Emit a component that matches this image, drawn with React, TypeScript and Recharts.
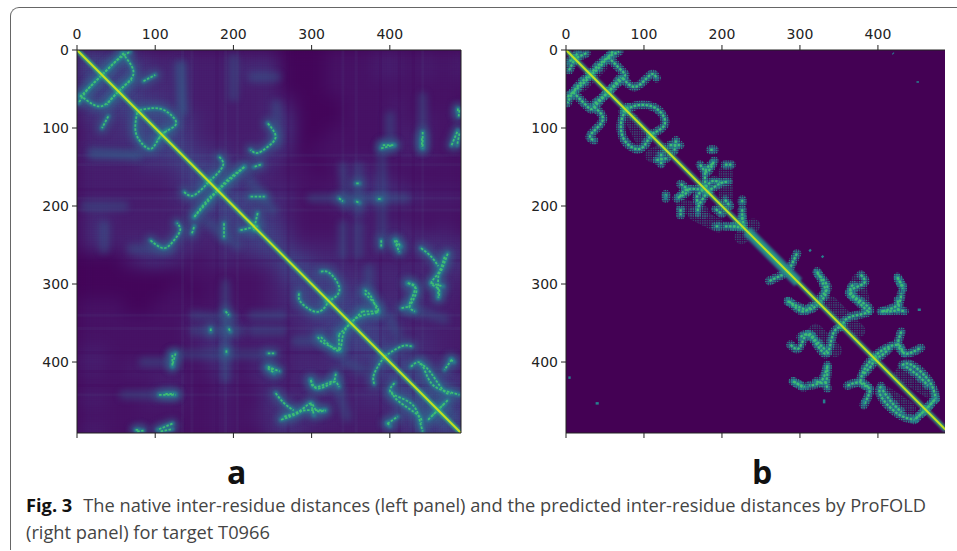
import { ComposedChart, XAxis, YAxis, Line, Scatter, CartesianGrid, ReferenceLine, ReferenceArea } from "recharts";

type Pt = [number, number];

const tickValues = [0, 100, 200, 300, 400];
const residueCount = 491;
const cellStep = 20;

// background level per 20-residue cell, upper triangle only (the map is symmetric)
const nativeHaze = [
  "6554323222222000111221212",
  "655433222344000111221212",
  "65333222222000111111111",
  "6543222223200011121111",
  "665322223400011121212",
  "65322223400111122211",
  "6433234301111122211",
  "654333110122111111",
  "65432211123321111",
  "6543311224443222",
  "644211122111111",
  "65311122232121",
  "6422222333433",
  "653322222344",
  "65433333233",
  "6544233232",
  "655433322",
  "65432222",
  "6533322",
  "653322",
  "65443",
  "6554",
  "655",
  "65",
  "6",
];
const hazeColors = ["#43055a", "#461265", "#461e6e", "#452a76", "#43357d", "#403f83", "#3d4a87"];

// thin rows and columns of the native map that stand out from their neighbours
const lightStripes = [135, 147, 190, 205, 340, 357, 442];
const darkStripes = [179, 270, 388, 412, 430];

const diagonal: Pt[] = [
  [0, 0],
  [491, 491],
];

const nativeStrands: Pt[][] = [
  [[60, 4], [47, 17], [32, 32], [15, 49], [2, 68]],
  [[58, 4], [70, 21], [70, 36], [53, 53], [38, 70]],
  [[85, 40], [100, 32]],
  [[80, 77], [105, 75], [122, 85], [126, 96], [113, 105], [103, 115]],
  [[244, 94], [254, 111], [244, 124], [231, 132], [222, 128]],
  [[235, 147], [226, 150]],
  [[214, 150], [197, 165], [180, 180], [167, 192], [150, 214]],
  [[182, 137], [187, 147], [178, 160], [165, 172]],
  [[222, 188], [240, 188]],
  [[231, 209], [226, 231]],
  [[389, 126], [404, 122]],
  [[441, 113], [441, 124]],
  [[489, 77], [488, 85]],
  [[489, 107], [486, 122]],
  [[335, 190], [340, 194]],
  [[357, 171], [361, 171]],
  [[357, 194], [361, 196]],
  [[385, 191], [389, 191]],
  [[389, 244], [389, 252]],
  [[406, 244], [412, 259]],
  [[440, 254], [453, 265], [462, 277]],
  [[474, 261], [466, 282], [462, 291], [462, 316]],
  [[453, 299], [468, 303]],
  [[423, 299], [434, 308], [425, 329]],
  [[312, 284], [323, 286], [335, 303], [331, 316], [318, 323]],
  [[368, 312], [376, 320], [385, 335], [366, 340], [350, 350], [335, 365]],
  [[308, 368], [316, 376], [337, 385]],
  [[335, 365], [335, 384]],
  [[393, 393], [415, 380], [428, 380]],
  [[427, 406], [440, 402], [453, 427], [474, 438], [489, 442]],
  [[474, 449], [461, 462], [453, 470]],
  [[479, 397], [470, 410]],
  [[438, 402], [451, 412], [468, 436], [478, 440]],
  [[442, 105], [442, 126]],
  [[479, 122], [487, 103]],
  [[391, 122], [406, 122]],
  [[408, 248], [412, 252]],
  [[487, 75], [487, 79]],
  [[299, 423], [303, 432], [316, 429], [329, 425], [335, 432]],
  [[331, 415], [329, 425]],
  [[265, 470], [286, 462], [299, 453], [306, 462], [318, 462]],
  [[478, 397], [482, 400]],
  [[408, 244], [414, 252]],
];

// faint ridges of the native map, drawn with the halo only
const nativeFaint: Pt[][] = [
  [[442, 60], [442, 126]],
  [[400, 85], [400, 125]],
  [[340, 150], [345, 200]],
  [[360, 150], [360, 210]],
  [[390, 120], [390, 240]],
  [[300, 190], [420, 190]],
  [[340, 225], [340, 262]],
  [[360, 225], [360, 262]],
  [[225, 35], [255, 35]],
  [[130, 20], [135, 75]],
  [[20, 135], [80, 135]],
  [[255, 120], [255, 70]],
  [[200, 10], [200, 60]],
  [[165, 220], [205, 250]],
  [[420, 330], [470, 345]],
  [[342, 400], [365, 410]],
  [[373, 280], [373, 310]],
  [[442, 440], [480, 470]],
];

const predictedStrands: Pt[][] = [
  [[60, 2], [39, 26], [28, 34], [12, 50], [2, 68]],
  [[54, 9], [73, 28], [73, 36], [54, 54], [35, 70]],
  [[73, 36], [90, 47], [108, 32], [116, 36]],
  [[26, 4], [3, 15]],
  [[73, 79], [91, 71], [112, 73], [125, 85], [125, 98], [108, 109]],
  [[133, 122], [146, 122]],
  [[141, 116], [139, 129]],
  [[185, 128], [190, 128]],
  [[172, 147], [181, 156], [190, 142]],
  [[204, 147], [212, 147]],
  [[181, 182], [198, 171], [208, 169]],
  [[176, 179], [168, 188], [170, 197]],
  [[146, 188], [155, 179], [176, 179]],
  [[204, 192], [210, 200]],
  [[226, 192], [226, 196]],
  [[226, 214], [228, 226]],
  [[204, 226], [219, 226]],
  [[296, 261], [288, 278]],
  [[322, 286], [335, 303], [327, 316]],
  [[284, 322], [300, 330], [312, 333], [322, 327]],
  [[378, 288], [382, 299], [365, 308], [370, 319]],
  [[363, 312], [378, 322], [389, 335], [365, 342], [355, 352]],
  [[301, 368], [312, 366], [335, 387]],
  [[425, 291], [432, 306]],
  [[425, 321], [425, 333], [404, 335]],
  [[425, 333], [434, 335]],
  [[382, 415], [393, 402], [400, 389], [425, 378], [434, 389], [455, 382]],
  [[335, 406], [327, 425], [312, 430]],
  [[292, 425], [303, 432]],
  [[361, 430], [378, 426], [389, 434]],
  [[404, 431], [404, 444], [425, 466], [447, 474]],
  [[436, 406], [451, 417], [464, 430]],
  [[472, 449], [460, 462], [447, 474]],
];

// scattered low-level pixels around the clusters of the predicted map
const predictedFuzz: Pt[][] = [
  [[205, 155], [205, 195]],
  [[165, 210], [195, 225]],
  [[340, 325], [375, 360]],
  [[320, 360], [345, 385]],
  [[410, 440], [440, 460]],
  [[430, 415], [470, 440]],
  [[20, 45], [45, 20]],
  [[85, 90], [100, 120]],
  [[225, 240], [240, 225]],
  [[128, 128], [110, 135]],
  [[375, 295], [380, 320]],
  [[150, 200], [175, 208]],
];

// blobs that sit off the main pattern in the predicted map
const predictedSpots: Pt[][] = [
  [[419, 4], [420, 5]],
  [[451, 40], [451, 42]],
  [[3, 420], [6, 420]],
  [[38, 453], [42, 453]],
  [[312, 256], [314, 258]],
  [[328, 264], [330, 266]],
  [[451, 333], [455, 333]],
  [[127, 186], [128, 192]],
  [[382, 453], [382, 448]],
  [[331, 453], [331, 448]],
];

// stretch of the predicted diagonal with a wider band
const predictedBand: Pt[] = [
  [232, 232],
  [298, 298],
];

const mirror = (strands: Pt[][]) =>
  strands.flatMap((s) => [s, s.map(([x, y]) => [y, x] as Pt)]);

const toRows = (s: Pt[]) => s.map(([x, y]) => ({ x, y }));

const hazeCells = () => {
  const cells: { x: number; y: number; v: number }[] = [];
  nativeHaze.forEach((row, i) =>
    row.split("").forEach((c, k) => {
      const j = i + k;
      cells.push({ x: j * cellStep + 10, y: i * cellStep + 10, v: Number(c) });
      if (i !== j) cells.push({ x: i * cellStep + 10, y: j * cellStep + 10, v: Number(c) });
    })
  );
  return cells;
};

const HazeCell = (p: any) => (
  <rect x={p.cx - 9} y={p.cy - 9} width={18} height={18} fill={hazeColors[p.payload.v]} />
);

const EmptyTick = () => <g />;

const axisTick = { fontSize: 14, fill: "#222", fontFamily: "DejaVu Sans" };

function Panel(props: {
  name: string;
  width: number;
  left: number;
  xMax: number;
  strands: Pt[][];
  faint: Pt[][];
  fuzz: Pt[][];
  spots: Pt[][];
  band: Pt[] | null;
  haze: boolean;
  outerW: number;
  innerW: number;
  rightSpine: boolean;
}) {
  const { name, width, left, xMax, strands, faint, fuzz, spots, band, haze, outerW, innerW, rightSpine } = props;
  return (
    <ComposedChart
      width={width + 10}
      height={460}
      margin={{ top: 49, left: left - 1, right: rightSpine ? 9 : 10, bottom: 26 }}
      style={{ position: "absolute", left: 0, top: 0 }}
    >
      <CartesianGrid horizontal={false} vertical={false} fill="#440154" />
      <XAxis
        dataKey="x"
        type="number"
        orientation="top"
        domain={[0, xMax]}
        ticks={tickValues}
        height={1}
        tick={axisTick}
        tickSize={5}
        tickMargin={6}
        stroke="#222"
        allowDataOverflow
      />
      <XAxis
        xAxisId="bottom"
        dataKey="x"
        type="number"
        orientation="bottom"
        domain={[0, xMax]}
        ticks={tickValues}
        interval={0}
        height={1}
        tick={EmptyTick}
        tickSize={5}
        stroke="#222"
        allowDataOverflow
      />
      <YAxis
        dataKey="y"
        type="number"
        reversed
        domain={[0, residueCount]}
        ticks={tickValues}
        width={1}
        tick={axisTick}
        tickSize={5}
        tickMargin={3}
        stroke="#222"
        allowDataOverflow
      />
      {rightSpine && (
        <YAxis
          yAxisId="right"
          orientation="right"
          type="number"
          domain={[0, residueCount]}
          width={1}
          tick={false}
          tickLine={false}
          stroke="#222"
        />
      )}
      {haze && (
        <Scatter
          data={hazeCells()}
          dataKey="y"
          shape={HazeCell}
          className="haze"
          zIndex={100}
          isAnimationActive={false}
        />
      )}
      {haze &&
        lightStripes.flatMap((r) => [
          <ReferenceLine key={"lx" + r} x={r} stroke="#5b8ea8" strokeOpacity={0.07} strokeWidth={3} zIndex={150} />,
          <ReferenceLine key={"ly" + r} y={r} stroke="#5b8ea8" strokeOpacity={0.07} strokeWidth={3} zIndex={150} />,
        ])}
      {haze &&
        darkStripes.flatMap((r) => [
          <ReferenceLine key={"dx" + r} x={r} stroke="#43055a" strokeOpacity={0.2} strokeWidth={3} zIndex={150} />,
          <ReferenceLine key={"dy" + r} y={r} stroke="#43055a" strokeOpacity={0.2} strokeWidth={3} zIndex={150} />,
        ])}
      {haze && (
        <ReferenceArea
          x1={0}
          x2={xMax}
          y1={0}
          y2={residueCount}
          fill="url(#gridTexture)"
          stroke="none"
          zIndex={160}
        />
      )}
      {faint.map((s, i) => (
        <Line
          key={"f" + i}
          data={toRows(s)}
          dataKey="y"
          type="linear"
          stroke="#31688e"
          strokeOpacity={0.35}
          strokeWidth={10}
          strokeLinecap="round"
          dot={false}
          className={"wide-" + name}
          isAnimationActive={false}
        />
      ))}
      {fuzz.map((s, i) => (
        <Line
          key={"z" + i}
          data={toRows(s)}
          dataKey="y"
          type="linear"
          stroke="url(#cellDots)"
          strokeOpacity={0.5}
          strokeWidth={14}
          strokeLinecap="round"
          dot={false}
          isAnimationActive={false}
        />
      ))}
      {haze &&
        strands.map((s, i) => (
          <Line
            key={"h" + i}
            data={toRows(s)}
            dataKey="y"
            type="natural"
            stroke="#31688e"
            strokeOpacity={0.5}
            strokeWidth={12}
            strokeLinecap="round"
            dot={false}
            className={"wide-" + name}
            isAnimationActive={false}
          />
        ))}
      {!haze &&
        strands.map((s, i) => (
          <Line
            key={"p" + i}
            data={toRows(s)}
            dataKey="y"
            type="natural"
            stroke="url(#cellDots)"
            strokeWidth={outerW + 4}
            strokeLinecap="round"
            dot={false}
            isAnimationActive={false}
          />
        ))}
      {strands.map((s, i) => (
        <Line
          key={"o" + i}
          data={toRows(s)}
          dataKey="y"
          type="natural"
          stroke="#27808e"
          strokeOpacity={0.85}
          strokeWidth={outerW}
          strokeLinecap="round"
          dot={false}
          className={"soft-" + name}
          isAnimationActive={false}
        />
      ))}
      {strands.map((s, i) => (
        <Line
          key={"i" + i}
          data={toRows(s)}
          dataKey="y"
          type="natural"
          stroke="#3fbc73"
          strokeWidth={innerW}
          strokeDasharray="2.5 1.5"
          dot={false}
          isAnimationActive={false}
        />
      ))}
      {spots.map((s, i) => (
        <Line
          key={"s" + i}
          data={toRows(s)}
          dataKey="y"
          type="linear"
          stroke="#27808e"
          strokeWidth={2.5}
          dot={false}
          isAnimationActive={false}
        />
      ))}
      {band && (
        <Line
          data={toRows(band)}
          dataKey="y"
          type="linear"
          stroke="#27808e"
          strokeWidth={11}
          strokeOpacity={0.9}
          dot={false}
          className={"soft-" + name}
          isAnimationActive={false}
        />
      )}
      <Line
        data={toRows(diagonal)}
        dataKey="y"
        type="linear"
        stroke="#2fb47c"
        strokeWidth={5}
        strokeOpacity={0.85}
        dot={false}
        className={"soft-" + name}
        isAnimationActive={false}
      />
      <Line
        data={toRows(diagonal)}
        dataKey="y"
        type="linear"
        stroke="#c5e021"
        strokeWidth={2}
        dot={false}
        isAnimationActive={false}
      />
    </ComposedChart>
  );
}

export default function App() {
  return (
    <div
      style={{
        position: "absolute",
        left: 0,
        top: 0,
        width: 957,
        height: 551,
        overflow: "hidden",
        background: "#fff",
      }}
    >
      <style>{`
        .haze { filter: blur(8px); }
        .soft-a { filter: blur(1px); clip-path: url(#plotA); }
        .wide-a { filter: blur(3px); clip-path: url(#plotA); }
        .soft-b { filter: blur(1px); clip-path: url(#plotB); }
      `}</style>
      <svg width="0" height="0" style={{ position: "absolute" }}>
        <defs>
          <clipPath id="plotA">
            <rect x={77} y={50} width={384} height={383} />
          </clipPath>
          <clipPath id="plotB">
            <rect x={77} y={50} width={379} height={383} />
          </clipPath>
          <pattern id="cellDots" width={2.34} height={2.34} patternUnits="userSpaceOnUse">
            <rect width={1.5} height={1.5} fill="#2a8c8c" />
          </pattern>
          <pattern id="gridTexture" width={2.34} height={2.34} patternUnits="userSpaceOnUse">
            <rect width={2.34} height={0.6} fill="#43055a" fillOpacity={0.25} />
            <rect width={0.6} height={2.34} fill="#43055a" fillOpacity={0.25} />
          </pattern>
        </defs>
      </svg>
      <div
        style={{
          position: "absolute",
          left: 10,
          top: 7,
          width: 960,
          height: 542,
          borderLeft: "1.5px solid #666",
          borderTop: "1.5px solid #666",
          borderTopLeftRadius: 9,
        }}
      />
      <div style={{ position: "absolute", left: 0, top: 0, width: 480, height: 460 }}>
        <Panel
          name="a"
          width={461}
          left={77}
          xMax={residueCount}
          strands={mirror(nativeStrands)}
          faint={mirror(nativeFaint)}
          fuzz={[]}
          spots={[]}
          band={null}
          haze
          outerW={4.5}
          innerW={1.8}
          rightSpine
        />
      </div>
      <div style={{ position: "absolute", left: 489, top: 0, width: 468, height: 460 }}>
        <Panel
          name="b"
          width={456}
          left={77}
          xMax={486}
          strands={mirror(predictedStrands)}
          faint={[]}
          fuzz={predictedFuzz}
          spots={predictedSpots}
          band={predictedBand}
          haze={false}
          outerW={5}
          innerW={2.2}
          rightSpine={false}
        />
      </div>
      <div style={labelStyle(227)}>a</div>
      <div style={labelStyle(752)}>b</div>
      <div style={captionStyle(493)}>
        <b style={{ color: "#111", marginRight: 11 }}>Fig. 3</b>
        The native inter-residue distances (left panel) and the predicted inter-residue distances by ProFOLD
      </div>
      <div style={captionStyle(520)}>(right panel) for target T0966</div>
    </div>
  );
}

function labelStyle(left: number): React.CSSProperties {
  return {
    position: "absolute",
    left,
    top: 450,
    fontFamily: "Open Sans",
    fontWeight: 700,
    fontSize: 32,
    lineHeight: "44px",
    color: "#111",
  };
}

function captionStyle(top: number): React.CSSProperties {
  return {
    position: "absolute",
    left: 26,
    top,
    fontFamily: "Open Sans",
    fontSize: 18.25,
    lineHeight: "24px",
    color: "#444",
    whiteSpace: "nowrap",
  };
}
